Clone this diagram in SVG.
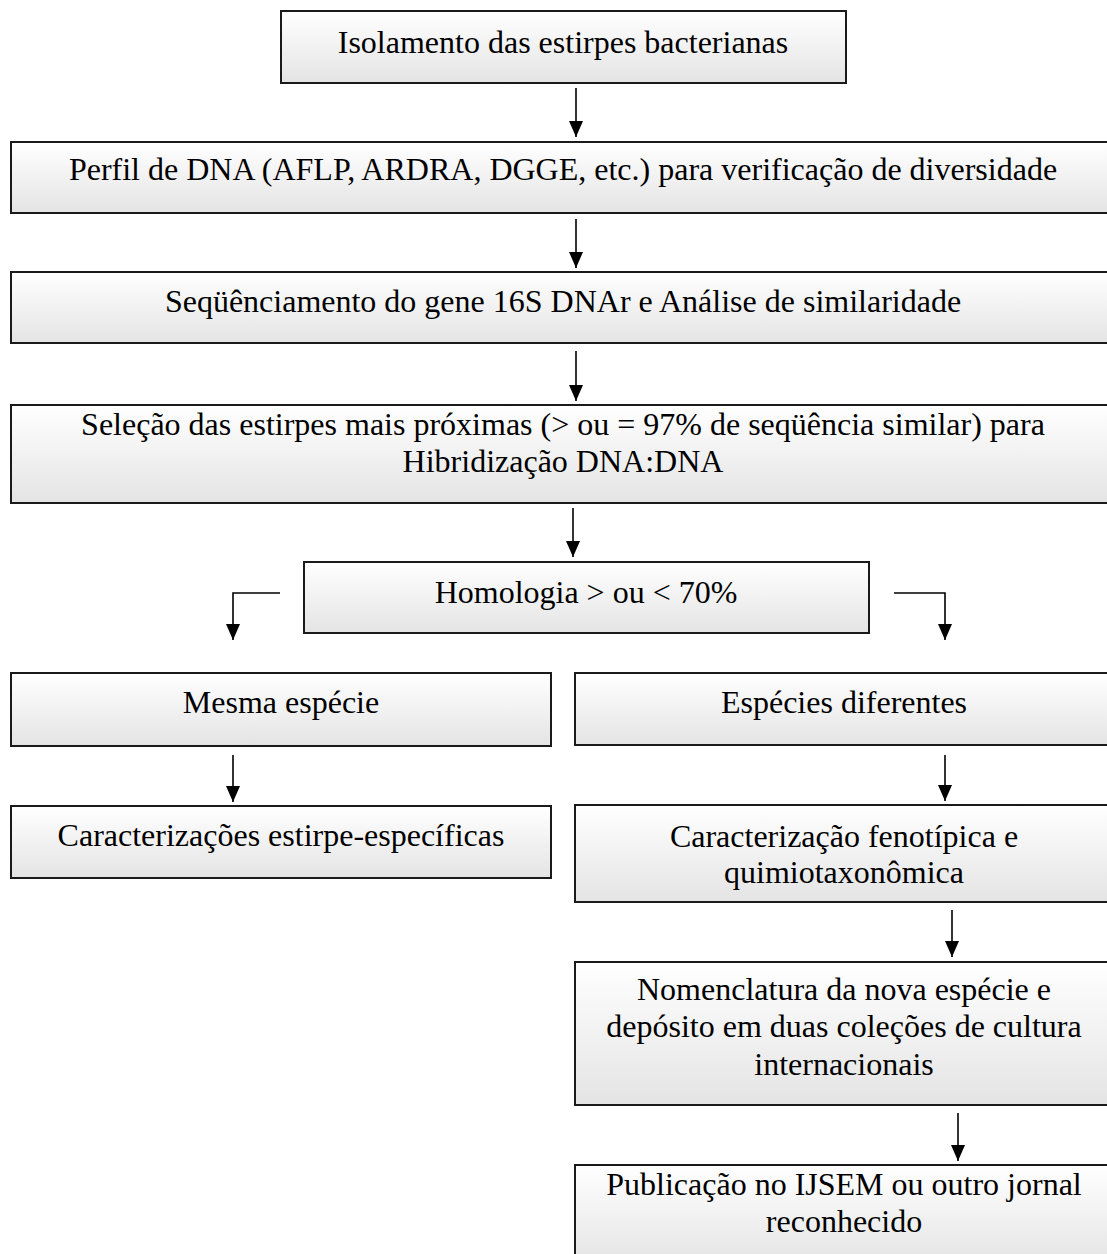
<svg xmlns="http://www.w3.org/2000/svg" width="1107" height="1254" viewBox="0 0 1107 1254">
<defs>
<linearGradient id="g" x1="0" y1="0" x2="0" y2="1">
<stop offset="0" stop-color="#ffffff"/>
<stop offset="1" stop-color="#e4e4e4"/>
</linearGradient>
<marker id="ah" viewBox="0 0 16 14" refX="16" refY="7" markerWidth="16" markerHeight="14" markerUnits="userSpaceOnUse" orient="auto">
<path d="M0,0 L16,7 L0,14 z" fill="#000"/>
</marker>
<style>
rect.b{fill:url(#g);stroke:#1a1a1a;stroke-width:2}
text{font-family:"Liberation Serif","Times New Roman",serif;font-size:32px;fill:#000;text-anchor:middle}
.c path{fill:none;stroke:#000;stroke-width:1.6;marker-end:url(#ah)}
</style>
</defs>
<rect width="1107" height="1254" fill="#fff"/>
<g id="n1"><rect class="b" x="281" y="11" width="565" height="72"/><text x="563" y="53">Isolamento das estirpes bacterianas</text></g>
<g id="n2"><rect class="b" x="11" y="142" width="1103" height="71"/><text x="563" y="180">Perfil de DNA (AFLP, ARDRA, DGGE, etc.) para verificação de diversidade</text></g>
<g id="n3"><rect class="b" x="11" y="272" width="1103" height="71"/><text x="563" y="312">Seqüênciamento do gene 16S DNAr e Análise de similaridade</text></g>
<g id="n4"><rect class="b" x="11" y="405" width="1103" height="98"/><text x="563" y="435">Seleção das estirpes mais próximas (&gt; ou = 97% de seqüência similar) para</text><text x="563" y="472">Hibridização DNA:DNA</text></g>
<g id="n5"><rect class="b" x="304" y="562" width="565" height="71"/><text x="586" y="603">Homologia &gt; ou &lt; 70%</text></g>
<g id="n6"><rect class="b" x="11" y="673" width="540" height="73"/><text x="281" y="713">Mesma espécie</text></g>
<g id="n7"><rect class="b" x="575" y="673" width="539" height="72"/><text x="844" y="713">Espécies diferentes</text></g>
<g id="n8"><rect class="b" x="11" y="806" width="540" height="72"/><text x="281" y="846">Caracterizações estirpe-específicas</text></g>
<g id="n9"><rect class="b" x="575" y="805" width="539" height="97"/><text x="844" y="847">Caracterização fenotípica e</text><text x="844" y="883">quimiotaxonômica</text></g>
<g id="n10"><rect class="b" x="575" y="962" width="539" height="143"/><text x="844" y="1000">Nomenclatura da nova espécie e</text><text x="844" y="1037">depósito em duas coleções de cultura</text><text x="844" y="1075">internacionais</text></g>
<g id="n11"><rect class="b" x="575" y="1165" width="539" height="100"/><text x="844" y="1195">Publicação no IJSEM ou outro jornal</text><text x="844" y="1232">reconhecido</text></g>
<g id="connectors" class="c">
<path d="M576,88 V137"/>
<path d="M576,219 V268"/>
<path d="M576,351 V401"/>
<path d="M573,508 V557"/>
<path d="M280,593 H233 V640"/>
<path d="M894,593 H945 V640"/>
<path d="M233,755 V802"/>
<path d="M945,755 V801"/>
<path d="M952,910 V957"/>
<path d="M958,1113 V1161"/>
</g>
</svg>
